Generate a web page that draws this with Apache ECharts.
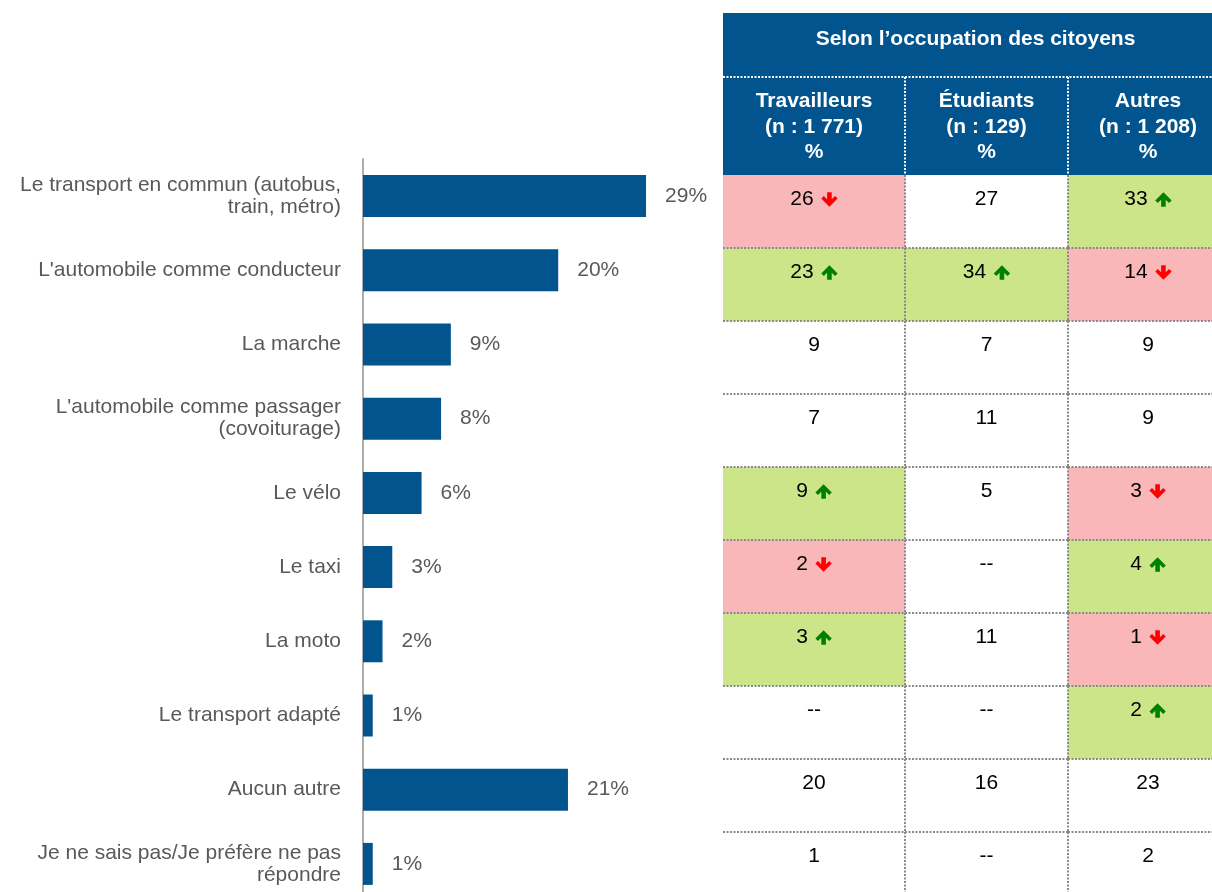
<!DOCTYPE html>
<html><head><meta charset="utf-8">
<script src="https://cdn.jsdelivr.net/npm/echarts@6/dist/echarts.min.js"></script>
<style>html,body{margin:0;padding:0;background:#fff}#c{width:1212px;height:892px}</style>
</head><body><div id="c"></div>
<script>
// ---------- DATA ----------
const categories = [
  "Le transport en commun (autobus,\ntrain, métro)",
  "L'automobile comme conducteur",
  "La marche",
  "L'automobile comme passager\n(covoiturage)",
  "Le vélo",
  "Le taxi",
  "La moto",
  "Le transport adapté",
  "Aucun autre",
  "Je ne sais pas/Je préfère ne pas\nrépondre"
];
const totalValues = [29, 20, 9, 8, 6, 3, 2, 1, 21, 1];

const tableTitle = "Selon l’occupation des citoyens";
const groupNames = ["Travailleurs", "Étudiants", "Autres"];
const groupSizes = ["1 771", "129", "1 208"];

// null = "--"
const travailleurs = [26, 23, 9, 7, 9, 2, 3, null, 20, 1];
const etudiants    = [27, 34, 7, 11, 5, null, 11, null, 16, null];
const autres       = [33, 14, 9, 9, 3, 4, 1, 2, 23, 2];
// 1 = significantly higher (green, up), -1 = lower (red, down), 0 = none
const travailleursSig = [-1, 1, 0, 0, 1, -1, 1, 0, 0, 0];
const etudiantsSig    = [0, 1, 0, 0, 0, 0, 0, 0, 0, 0];
const autresSig       = [1, -1, 0, 0, -1, 1, -1, 1, 0, 0];

// ---------- LAYOUT / STYLE ----------
const FONT = '"Liberation Sans", Arial, sans-serif';
const FS = 21;
const BLUE = '#02548F';
const colEdges = [0, 182, 345, 505]; // column boundaries within the table grid (px)
const groupValues = [travailleurs, etudiants, autres];
const groupSig = [travailleursSig, etudiantsSig, autresSig];

const mctx = document.createElement('canvas').getContext('2d');
mctx.font = FS + 'px ' + FONT;
const tw = s => mctx.measureText(s).width;

const cellData = [];
groupValues.forEach((arr, c) => arr.forEach((v, r) => cellData.push([c, r])));
const headerData = groupNames.map((g, c) => [c, 0]);

function arrowPoints(cx, cy, dir) {
  const pts = [[0,-7.2],[8.2,1],[5.6,3.5],[2.3,0.2],[2.3,7.2],[-2.3,7.2],[-2.3,0.2],[-5.6,3.5],[-8.2,1]];
  return pts.map(p => [cx + p[0], cy + (dir > 0 ? p[1] : -p[1])]);
}

const DOT = {stroke: '#8A8A8A', lineWidth: 2, lineDash: [2, 1.5]};

function renderCell(params, api) {
  const c = api.value(0), r = api.value(1);
  const v = groupValues[c][r], s = groupSig[c][r];
  const center = api.coord([0, r]);
  const bandH = api.size([0, 1])[1];
  const top = center[1] - bandH / 2, bottom = top + bandH;
  const x0 = api.coord([colEdges[c], r])[0], x1 = api.coord([colEdges[c + 1], r])[0];
  const cx = (x0 + x1) / 2, ty = top + 24;
  const children = [];
  if (s !== 0) {
    children.push({type: 'rect', z2: 0, shape: {x: x0, y: top, width: x1 - x0, height: bandH},
      style: {fill: s > 0 ? '#CDE589' : '#F9B7B9'}});
  }
  children.push({type: 'line', z2: 10, shape: {x1: x0, y1: bottom, x2: x1, y2: bottom}, style: DOT});
  if (c < 2) {
    children.push({type: 'line', z2: 10, shape: {x1: x1, y1: top, x2: x1, y2: bottom}, style: DOT});
  }
  const txt = v == null ? '--' : String(v);
  if (s === 0) {
    children.push({type: 'text', z2: 5, style: {text: txt, x: cx, y: ty, fill: '#000',
      fontSize: FS, fontFamily: FONT, align: 'center', verticalAlign: 'middle'}});
  } else {
    const w = tw(txt), gap = 7.5, aw = 16.4, total = w + gap + aw;
    const sx = cx - total / 2;
    children.push({type: 'text', z2: 5, style: {text: txt, x: sx, y: ty, fill: '#000',
      fontSize: FS, fontFamily: FONT, align: 'left', verticalAlign: 'middle'}});
    children.push({type: 'polygon', z2: 5, shape: {points: arrowPoints(sx + w + gap + aw / 2, ty + 0.5, s)},
      style: {fill: s > 0 ? '#008000' : '#FF0000'}});
  }
  return {type: 'group', children};
}

function renderHeader(params, api) {
  const c = api.value(0);
  const gridTop = api.coord([0, 0])[1] - api.size([0, 1])[1] / 2;
  const headTop = gridTop - 162, divY = gridTop - 98;
  const x0 = api.coord([colEdges[c], 0])[0], x1 = api.coord([colEdges[c + 1], 0])[0];
  const children = [];
  if (c === 0) {
    const xa = api.coord([colEdges[0], 0])[0], xb = api.coord([colEdges[colEdges.length - 1], 0])[0];
    children.push({type: 'rect', z2: 0, shape: {x: xa, y: headTop, width: xb - xa, height: gridTop - headTop},
      style: {fill: BLUE}});
    children.push({type: 'text', z2: 5, style: {text: tableTitle, x: (xa + xb) / 2, y: headTop + 26,
      fill: '#fff', fontSize: FS, fontWeight: 'bold', fontFamily: FONT, align: 'center', verticalAlign: 'middle'}});
    children.push({type: 'line', z2: 6, shape: {x1: xa, y1: divY, x2: xb, y2: divY},
      style: {stroke: '#fff', lineWidth: 2, lineDash: [2, 1.5]}});
  }
  if (c < 2) {
    children.push({type: 'line', z2: 6, shape: {x1: x1, y1: divY, x2: x1, y2: gridTop},
      style: {stroke: '#fff', lineWidth: 2, lineDash: [2, 1.5]}});
  }
  children.push({type: 'text', z2: 5, style: {text: groupNames[c] + '\n(n : ' + groupSizes[c] + ')\n%',
    x: (x0 + x1) / 2, y: divY + 50, fill: '#fff', fontSize: FS, fontWeight: 'bold', fontFamily: FONT,
    lineHeight: 25.5, align: 'center', verticalAlign: 'middle'}});
  return {type: 'group', children};
}

const chart = echarts.init(document.getElementById('c'), null, {renderer: 'canvas'});
chart.setOption({
  animation: false,
  backgroundColor: '#fff',
  textStyle: {fontFamily: FONT},
  grid: [
    {left: 363, top: 159, width: 292.8, height: 742, outerBoundsMode: 'none', containLabel: false},
    {left: 723, top: 175, width: 505, height: 730, outerBoundsMode: 'none', containLabel: false}
  ],
  xAxis: [
    {gridIndex: 0, type: 'value', min: 0, max: 30, show: false},
    {gridIndex: 1, type: 'value', min: 0, max: 505, show: false}
  ],
  yAxis: [
    {gridIndex: 0, type: 'category', data: categories, inverse: true,
      axisLine: {show: true, lineStyle: {color: '#ADADAD', width: 2}},
      axisTick: {show: false},
      axisLabel: {color: '#595959', fontSize: FS, fontFamily: FONT, margin: 22, lineHeight: 22, align: 'right'}},
    {gridIndex: 1, type: 'category', data: categories, inverse: true, show: false}
  ],
  series: [
    {type: 'bar', xAxisIndex: 0, yAxisIndex: 0, data: totalValues, barWidth: 42,
      itemStyle: {color: BLUE},
      label: {show: true, position: 'right', distance: 19, color: '#595959', fontSize: FS,
        fontFamily: FONT, formatter: '{c}%'}},
    {type: 'custom', xAxisIndex: 1, yAxisIndex: 1, data: cellData, renderItem: renderCell, clip: false},
    {type: 'custom', xAxisIndex: 1, yAxisIndex: 1, data: headerData, renderItem: renderHeader, clip: false}
  ]
});
</script>
</body></html>
